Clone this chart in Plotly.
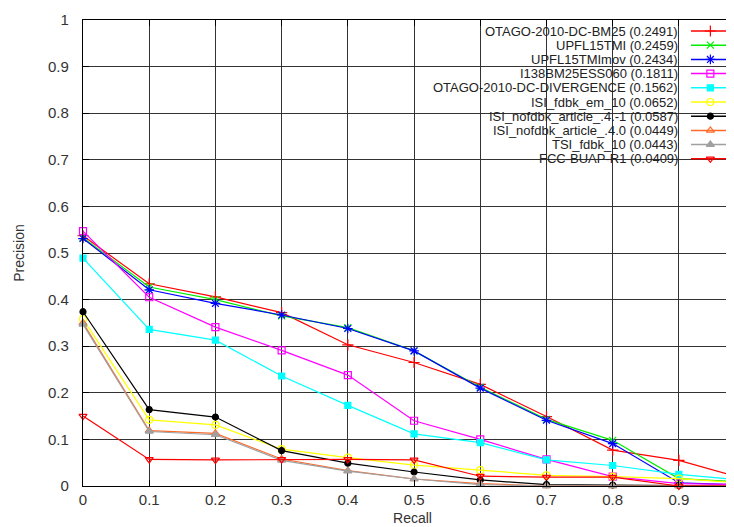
import plotly.graph_objects as go

recall = [0.0, 0.1, 0.2, 0.3, 0.4, 0.5, 0.6, 0.7, 0.8, 0.9, 1.0]

names = [
    "OTAGO-2010-DC-BM25 (0.2491)",
    "UPFL15TMI (0.2459)",
    "UPFL15TMImov (0.2434)",
    "I138BM25ESS060 (0.1811)",
    "OTAGO-2010-DC-DIVERGENCE (0.1562)",
    "ISI_fdbk_em_10 (0.0652)",
    "ISI_nofdbk_article_.4.-1 (0.0587)",
    "ISI_nofdbk_article_.4.0 (0.0449)",
    "TSI_fdbk_10 (0.0443)",
    "FCC-BUAP-R1 (0.0409)",
]

otago_bm25 = [0.537, 0.434, 0.406, 0.372, 0.303, 0.265, 0.218, 0.149, 0.077, 0.055, 0.015]
upfl15tmi = [0.533, 0.427, 0.400, 0.365, 0.340, 0.290, 0.212, 0.143, 0.098, 0.016, 0.008]
upfl15tmimov = [0.531, 0.421, 0.392, 0.367, 0.338, 0.290, 0.210, 0.141, 0.091, 0.007, 0.002]
i138bm25 = [0.547, 0.405, 0.341, 0.291, 0.238, 0.140, 0.100, 0.057, 0.020, 0.005, 0.003]
otago_div = [0.489, 0.336, 0.313, 0.236, 0.173, 0.112, 0.093, 0.056, 0.044, 0.025, 0.012]
isi_fdbk_em = [0.358, 0.142, 0.131, 0.079, 0.061, 0.045, 0.034, 0.023, 0.020, 0.016, 0.006]
isi_nofdbk_m1 = [0.374, 0.164, 0.148, 0.076, 0.049, 0.030, 0.013, 0.003, 0.002, 0.001, 0.000]
isi_nofdbk_0 = [0.350, 0.119, 0.113, 0.058, 0.033, 0.015, 0.005, 0.000, 0.000, 0.000, 0.000]
tsi_fdbk = [0.347, 0.117, 0.110, 0.055, 0.032, 0.015, 0.003, 0.000, 0.000, 0.000, 0.000]
fcc_buap = [0.150, 0.057, 0.056, 0.057, 0.057, 0.056, 0.021, 0.019, 0.019, 0.000, 0.000]

series = [otago_bm25, upfl15tmi, upfl15tmimov, i138bm25, otago_div,
          isi_fdbk_em, isi_nofdbk_m1, isi_nofdbk_0, tsi_fdbk, fcc_buap]

colors = ["#ff0000", "#00ee00", "#0000ff", "#ff00ff", "#00ffff",
          "#ffff00", "#000000", "#ff6a2a", "#a0a0a0", "#ff0000"]
symbols = ["cross-thin-open", "x-thin-open", "asterisk-open", "square-open", "square",
           "circle-open", "circle", "triangle-up-open", "triangle-up", "triangle-down-open"]
sizes = [8, 7, 8, 7, 6, 7, 6, 7, 7, 7]

FONT = "Liberation Sans, Arial, sans-serif"

fig = go.Figure()

for name, ys, c, s, sz in zip(names, series, colors, symbols, sizes):
    fig.add_trace(go.Scatter(
        x=recall, y=ys, mode="lines+markers", name=name,
        line=dict(color=c, width=1.2),
        marker=dict(symbol=s, size=sz, color=c, line=dict(color=c, width=1.2)),
        showlegend=False, cliponaxis=False,
    ))

# manual legend (gnuplot style: text right-aligned, sample on the right)
row_top = 23.0
row_step = 14.2
plot_top, plot_h = 12, 466
sx0, sx1, smid = 0.9226, 0.982, 0.952
annotations = []
for i, (name, c, s, sz) in enumerate(zip(names, colors, symbols, sizes)):
    ypx = row_top + i * row_step
    yp = (plot_top + plot_h - ypx) / plot_h
    annotations.append(dict(
        text=name, x=0.906, y=yp, xref="paper", yref="paper",
        xanchor="right", yanchor="middle", showarrow=False,
        font=dict(family=FONT, size=13, color="#222222"),
    ))
    fig.add_trace(go.Scatter(
        x=[sx0, smid, sx1], y=[yp, yp, yp], xaxis="x2", yaxis="y2",
        mode="lines", line=dict(color=c, width=1.5),
        showlegend=False, hoverinfo="skip",
    ))
    fig.add_trace(go.Scatter(
        x=[smid], y=[yp], xaxis="x2", yaxis="y2", mode="markers",
        marker=dict(symbol=s, size=sz, color=c, line=dict(color=c, width=1.2)),
        showlegend=False, hoverinfo="skip",
    ))

grid = "#333333"
fig.update_layout(
    width=734, height=527,
    margin=dict(l=75, r=0, t=12, b=49),
    paper_bgcolor="white", plot_bgcolor="white",
    font=dict(family=FONT, size=14, color="#333333"),
    annotations=annotations,
    shapes=[dict(type="rect", xref="paper", yref="paper",
                 x0=0.498, x1=1.0, y0=0.688, y1=0.995,
                 fillcolor="white", line=dict(width=0), layer="between")],
    xaxis=dict(
        range=[0, 0.9953], tickvals=[0, 0.1, 0.2, 0.3, 0.4, 0.5, 0.6, 0.7, 0.8, 0.9],
        ticktext=["0", "0.1", "0.2", "0.3", "0.4", "0.5", "0.6", "0.7", "0.8", "0.9"],
        showgrid=True, gridcolor=grid, gridwidth=1.3,
        showline=True, linecolor="#000000", linewidth=1.3, mirror="ticks",
        ticks="inside", ticklen=6, tickcolor="#000000",
        tickfont=dict(family=FONT, size=15, color="#333333"),
        title=dict(text="Recall", font=dict(family=FONT, size=14, color="#333333"), standoff=6),
        zeroline=False,
    ),
    yaxis=dict(
        range=[0, 1], tickvals=[0, 0.1, 0.2, 0.3, 0.4, 0.5, 0.6, 0.7, 0.8, 0.9, 1.0],
        ticktext=["0", "0.1", "0.2", "0.3", "0.4", "0.5", "0.6", "0.7", "0.8", "0.9", "1"],
        showgrid=True, gridcolor=grid, gridwidth=1.3,
        showline=True, linecolor="#000000", linewidth=1.3,
        ticks="inside", ticklen=6, tickcolor="#000000", ticklabelstandoff=10,
        tickfont=dict(family=FONT, size=15, color="#333333"),
        title=dict(text="Precision", font=dict(family=FONT, size=14, color="#333333"), standoff=20),
        zeroline=False,
    ),
    xaxis2=dict(overlaying="x", range=[0, 1], visible=False, fixedrange=True),
    yaxis2=dict(overlaying="y", range=[0, 1], visible=False, fixedrange=True),
)

fig.write_html("out.html")
